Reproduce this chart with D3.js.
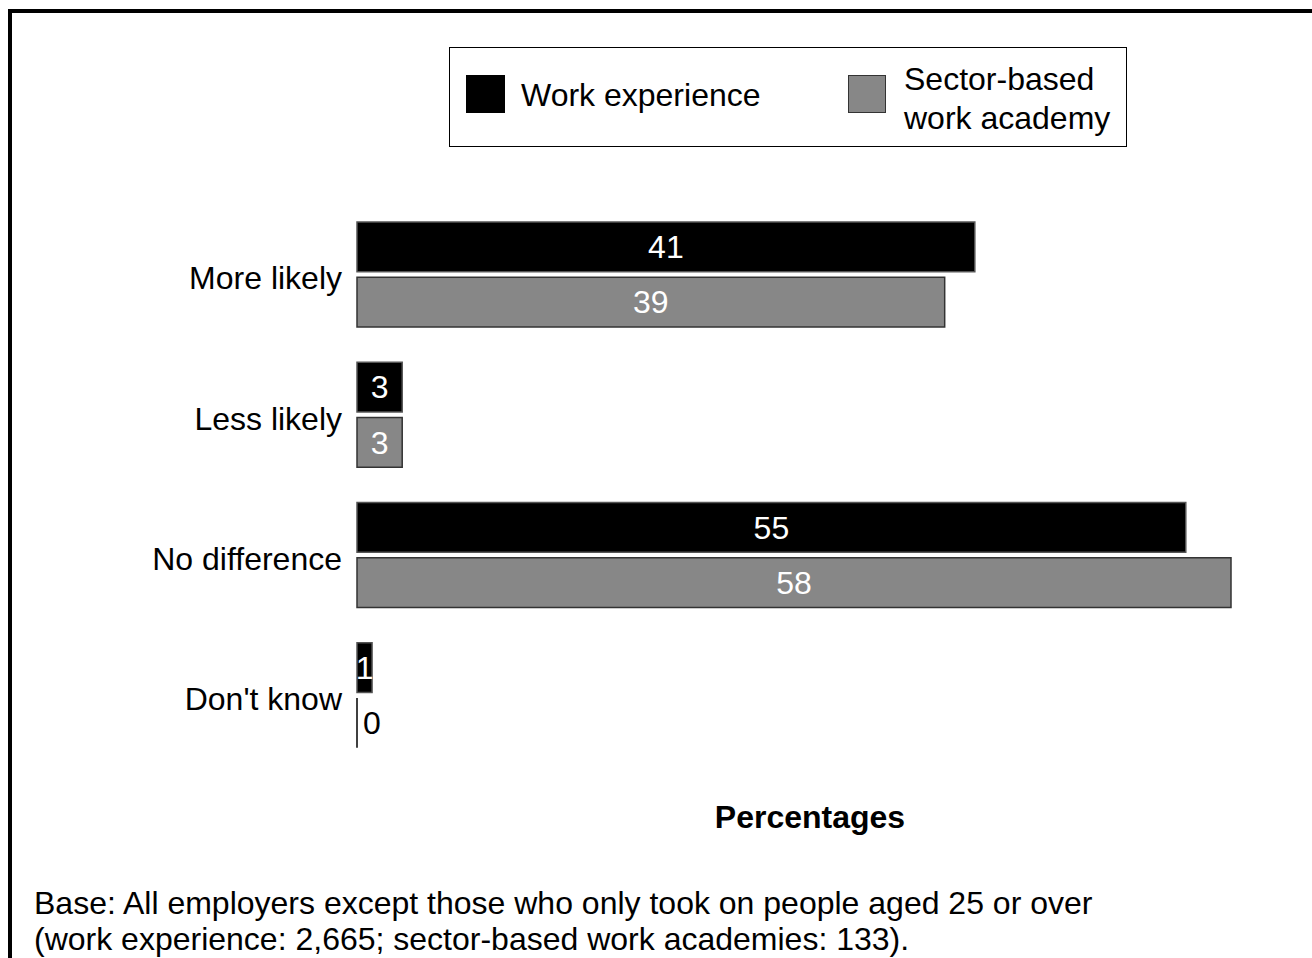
<!DOCTYPE html>
<html><head><meta charset="utf-8">
<script src="https://cdn.jsdelivr.net/npm/d3@7"></script>
<style>body{margin:0;background:#fff}svg{display:block;font-family:"Liberation Sans",Arial,sans-serif}</style>
</head><body>
<svg id="c" width="1312" height="958"></svg>
<script>
const categories = ["More likely","Less likely","No difference","Don't know"];
const seriesNames = ["Work experience","Sector-based work academy"];
const workExperience = [41,3,55,1];
const sectorAcademy = [39,3,58,0];
const colors = ["#000000","#878787"];
const strokes = ["#555555","#333333"];
const FS = 32;

const svg = d3.select("#c");
// frame
svg.append("rect").attr("x",10).attr("y",11).attr("width",1320).attr("height",960)
  .attr("fill","none").attr("stroke","#000").attr("stroke-width",4);

const x0 = 357;
const x = d3.scaleLinear().domain([0,58]).range([x0, 1231]);
const y = d3.scaleBand().domain(categories).range([215,776]).paddingInner(0).paddingOuter(0);
const inner = d3.scaleBand().domain([0,1]).range([7,112]).paddingInner(0.1);

const series = [workExperience, sectorAcademy];
series.forEach((vals, si) => {
  const g = svg.append("g");
  categories.forEach((cat, i) => {
    const v = vals[i];
    const yy = y(cat) + inner(si);
    const h = inner.bandwidth();
    if (v > 0) {
      g.append("rect").attr("x",x(0)).attr("y",yy).attr("width",x(v)-x(0)).attr("height",h)
        .attr("fill",colors[si]).attr("stroke",strokes[si]).attr("stroke-width",1.5);
      g.append("text").attr("x",(x(0)+x(v))/2).attr("y",yy+h/2).attr("dy","0.35em")
        .attr("text-anchor","middle").attr("fill","#fff").attr("font-size",FS).text(v);
    } else {
      g.append("line").attr("x1",x(0)).attr("x2",x(0)).attr("y1",yy).attr("y2",yy+h)
        .attr("stroke","#000").attr("stroke-width",1.5);
      g.append("text").attr("x",x(0)+6).attr("y",yy+h/2).attr("dy","0.35em")
        .attr("text-anchor","start").attr("fill","#000").attr("font-size",FS).text(v);
    }
  });
});

// category axis labels
const yAxis = d3.axisLeft(y).tickSize(0).tickPadding(15);
const ga = svg.append("g").attr("transform",`translate(${x0},-6)`).call(yAxis);
ga.select(".domain").remove();
ga.selectAll("text").attr("font-size",FS).attr("fill","#000")
  .attr("font-family","Liberation Sans, Arial, sans-serif");

// axis title
svg.append("text").attr("x",810).attr("y",817).attr("dy","0.35em").attr("text-anchor","middle")
  .attr("font-size",FS).attr("font-weight","bold").text("Percentages");

// legend
svg.append("rect").attr("x",449.5).attr("y",47.5).attr("width",677).attr("height",99)
  .attr("fill","#fff").attr("stroke","#000").attr("stroke-width",1);
svg.append("rect").attr("x",466).attr("y",75).attr("width",39).attr("height",38).attr("fill",colors[0]);
svg.append("text").attr("x",521).attr("y",95).attr("dy","0.35em").attr("font-size",FS).text(seriesNames[0]);
svg.append("rect").attr("x",848.5).attr("y",75.5).attr("width",37).attr("height",37)
  .attr("fill",colors[1]).attr("stroke","#333").attr("stroke-width",1);
svg.append("text").attr("x",904).attr("y",79).attr("dy","0.35em").attr("font-size",FS).text("Sector-based");
svg.append("text").attr("x",904).attr("y",118).attr("dy","0.35em").attr("font-size",FS).text("work academy");

// base note
svg.append("text").attr("x",34).attr("y",903).attr("dy","0.35em").attr("font-size",FS)
  .text("Base: All employers except those who only took on people aged 25 or over");
svg.append("text").attr("x",34).attr("y",939).attr("dy","0.35em").attr("font-size",FS)
  .text("(work experience: 2,665; sector-based work academies: 133).");
</script>
</body></html>
